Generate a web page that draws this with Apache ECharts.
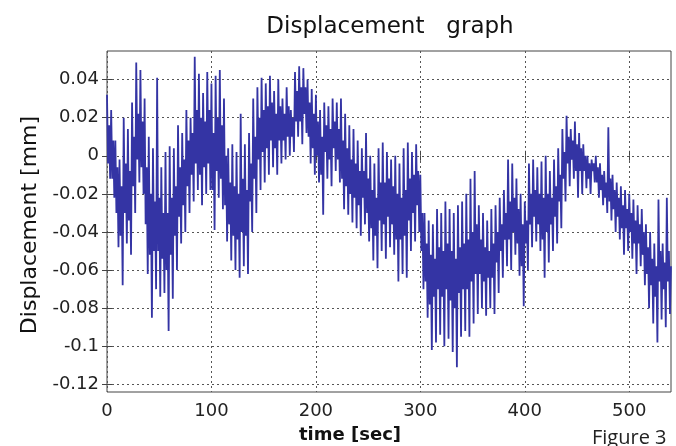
<!DOCTYPE html>
<html>
<head>
<meta charset="utf-8">
<script src="https://cdn.jsdelivr.net/npm/echarts@6/dist/echarts.min.js"></script>
<style>
  html, body { margin: 0; padding: 0; background: #fff; }
  #chart { width: 676px; height: 446px; }
</style>
</head>
<body>
<div id="chart"></div>
<script>
// one sample per second, 0..540 s (mm)
const sampleStep = 1
const displacement = [
  0.032, -0.004, 0.016, -0.012, 0.024, -0.012, 0.008, -0.022,
  0.008, -0.03, -0.006, -0.048, -0.002, -0.042, -0.016, -0.068,
  0.02, -0.03, -0.004, -0.046, 0.014, -0.034, -0.008, -0.052,
  0.028, -0.016, 0.01, -0.03, 0.049, -0.002, 0.022, -0.014,
  0.045, -0.006, 0.018, -0.02, 0.03, -0.036, -0.006, -0.062,
  0.01, -0.052, -0.02, -0.085, 0.004, -0.05, -0.024, -0.07,
  0.041, -0.05, -0.022, -0.074, -0.006, -0.054, -0.03, -0.072,
  0.002, -0.06, -0.03, -0.092, 0.005, -0.052, -0.022, -0.075,
  // 64 s
  0.004, -0.042, -0.016, -0.06, 0.016, -0.032, -0.006, -0.046,
  0.012, -0.026, -0.002, -0.04, 0.024, -0.016, 0.008, -0.03,
  0.02, -0.01, 0.012, -0.024, 0.052, -0.004, 0.024, -0.018,
  0.043, -0.01, 0.02, -0.026, 0.033, -0.006, 0.018, -0.02,
  0.044, -0.004, 0.024, -0.018, 0.038, -0.018, 0.012, -0.039,
  0.042, -0.008, 0.02, -0.022, 0.045, -0.012, 0.016, -0.028,
  0.03, -0.026, 0.0, -0.045, 0.004, -0.036, -0.014, -0.055,
  0.006, -0.042, -0.016, -0.06, 0.002, -0.044, -0.02, -0.064,
  // 128 s
  0.022, -0.04, -0.012, -0.058, 0.006, -0.042, -0.018, -0.062,
  0.012, -0.024, -0.004, -0.04, 0.03, -0.012, 0.01, -0.03,
  0.036, -0.002, 0.02, -0.018, 0.041, 0.002, 0.024, -0.014,
  0.038, 0.004, 0.026, -0.01, 0.042, 0.008, 0.028, -0.006,
  0.034, 0.004, 0.022, -0.01, 0.04, 0.008, 0.026, -0.004,
  0.03, 0.008, 0.022, -0.002, 0.036, 0.01, 0.026, 0.0,
  0.024, 0.01, 0.02, 0.002, 0.044, 0.018, 0.034, 0.01,
  0.047, 0.018, 0.036, 0.006, 0.046, 0.022, 0.036, 0.012,
  // 192 s
  0.04, 0.01, 0.028, -0.004, 0.035, 0.004, 0.022, -0.01,
  0.032, 0.0, 0.018, -0.014, 0.024, -0.01, 0.01, -0.031,
  0.028, 0.002, 0.016, -0.012, 0.026, -0.002, 0.014, -0.016,
  0.03, 0.004, 0.018, -0.008, 0.028, -0.002, 0.014, -0.014,
  0.03, -0.012, 0.008, -0.028, 0.022, -0.016, 0.004, -0.031,
  0.016, -0.02, -0.002, -0.035, 0.014, -0.022, -0.004, -0.038,
  0.008, -0.026, -0.008, -0.042, 0.004, -0.022, -0.008, -0.036,
  0.012, -0.03, -0.012, -0.045, 0.0, -0.038, -0.018, -0.055,
  // 256 s
  -0.004, -0.042, -0.022, -0.059, 0.004, -0.034, -0.014, -0.05,
  0.007, -0.036, -0.014, -0.054, 0.002, -0.032, -0.012, -0.048,
  -0.002, -0.036, -0.016, -0.052, 0.0, -0.044, -0.02, -0.066,
  -0.004, -0.044, -0.022, -0.062, 0.004, -0.042, -0.018, -0.064,
  0.007, -0.034, -0.012, -0.05, 0.002, -0.03, -0.01, -0.045,
  0.006, -0.026, -0.008, -0.04, -0.01, -0.05, -0.03, -0.07,
  -0.03, -0.066, -0.046, -0.085, -0.034, -0.078, -0.052, -0.102,
  -0.036, -0.074, -0.054, -0.098, -0.028, -0.07, -0.048, -0.094,
  // 320 s
  -0.03, -0.074, -0.05, -0.1, -0.024, -0.07, -0.046, -0.096,
  -0.028, -0.076, -0.05, -0.103, -0.03, -0.08, -0.054, -0.111,
  -0.026, -0.072, -0.048, -0.095, -0.024, -0.07, -0.046, -0.092,
  -0.02, -0.07, -0.044, -0.095, -0.012, -0.066, -0.04, -0.088,
  -0.008, -0.062, -0.036, -0.083, -0.026, -0.062, -0.044, -0.08,
  -0.03, -0.066, -0.048, -0.084, -0.034, -0.064, -0.05, -0.08,
  -0.028, -0.064, -0.046, -0.083, -0.026, -0.056, -0.04, -0.072,
  -0.022, -0.05, -0.036, -0.064, -0.018, -0.044, -0.03, -0.058,
  // 384 s
  -0.002, -0.044, -0.024, -0.06, -0.004, -0.04, -0.022, -0.052,
  -0.012, -0.046, -0.028, -0.063, -0.02, -0.058, -0.036, -0.079,
  -0.024, -0.046, -0.034, -0.06, -0.004, -0.036, -0.02, -0.048,
  -0.002, -0.032, -0.018, -0.045, -0.006, -0.036, -0.02, -0.05,
  -0.003, -0.044, -0.022, -0.064, 0.0, -0.04, -0.02, -0.056,
  -0.008, -0.036, -0.022, -0.05, -0.002, -0.032, -0.016, -0.046,
  0.004, -0.024, -0.01, -0.038, 0.014, -0.012, 0.002, -0.024,
  0.021, -0.004, 0.01, -0.016, 0.014, -0.002, 0.008, -0.012,
  // 448 s
  0.018, -0.008, 0.006, -0.022, 0.012, -0.008, 0.004, -0.02,
  0.006, -0.008, 0.0, -0.017, 0.0, -0.012, -0.004, -0.02,
  -0.002, -0.008, -0.004, -0.014, 0.0, -0.014, -0.006, -0.022,
  -0.004, -0.018, -0.01, -0.026, -0.008, -0.022, -0.014, -0.03,
  0.015, -0.024, -0.012, -0.034, -0.01, -0.028, -0.018, -0.04,
  -0.014, -0.032, -0.022, -0.044, -0.016, -0.038, -0.026, -0.052,
  -0.018, -0.038, -0.028, -0.05, -0.02, -0.04, -0.03, -0.054,
  -0.023, -0.046, -0.034, -0.062, -0.026, -0.046, -0.036, -0.058,
  // 512 s
  -0.028, -0.052, -0.04, -0.068, -0.036, -0.062, -0.048, -0.08,
  -0.04, -0.068, -0.054, -0.088, -0.046, -0.074, -0.058, -0.098,
  -0.023, -0.066, -0.05, -0.086, -0.046, -0.07, -0.056, -0.09,
  -0.022, -0.066, -0.05, -0.083,
  -0.058
]

const xTicks = [0, 100, 200, 300, 400, 500]
const yTicks = [-0.12, -0.1, -0.08, -0.06, -0.04, -0.02, 0, 0.02, 0.04]

const lineColor = '#3434a4'
const frameColor = '#444'
const labelFont = 'DejaVu Sans'

const chart = echarts.init(document.getElementById('chart'))

const points = displacement.map((v, i) => [i * sampleStep, v])

const tickStyle = { inside: true, length: 5, lineStyle: { color: frameColor } }
const gridLine = { show: true, lineStyle: { color: '#555', type: [2, 3], width: 1 } }

chart.setOption({
  animation: false,
  backgroundColor: '#fff',
  grid: {
    left: 107, right: 5, top: 51, bottom: 54,
    show: true, borderColor: frameColor, borderWidth: 1
  },
  xAxis: [
    {
      type: 'value', min: 0, max: 540, position: 'bottom',
      axisLine: { show: false },
      axisTick: { ...tickStyle, customValues: xTicks },
      axisLabel: {
        customValues: xTicks, margin: 10,
        fontFamily: labelFont, fontSize: 18, color: '#222'
      },
      splitLine: gridLine
    },
    {
      type: 'value', min: 0, max: 540, position: 'top',
      axisLine: { show: false },
      axisTick: { ...tickStyle, customValues: xTicks },
      axisLabel: { show: false },
      splitLine: { show: false }
    }
  ],
  yAxis: [
    {
      type: 'value', min: -0.124, max: 0.055, position: 'left',
      axisLine: { show: false },
      axisTick: { ...tickStyle, customValues: yTicks },
      axisLabel: {
        customValues: yTicks, margin: 8,
        fontFamily: labelFont, fontSize: 18, color: '#222',
        formatter: (v) => String(+v.toFixed(2))
      },
      splitLine: gridLine
    },
    {
      type: 'value', min: -0.124, max: 0.055, position: 'right',
      axisLine: { show: false },
      axisTick: { ...tickStyle, customValues: yTicks },
      axisLabel: { show: false },
      splitLine: { show: false }
    }
  ],
  series: [{
    type: 'line',
    data: points,
    showSymbol: false,
    sampling: 'none',
    lineStyle: { color: lineColor, width: 1.8 }
  }],
  graphic: [
    {
      type: 'text', x: 390, y: 27,
      style: {
        text: 'Displacement   graph', font: '23px "DejaVu Sans"', fill: '#111',
        align: 'center', verticalAlign: 'middle'
      }
    },
    {
      type: 'text', x: 30, y: 225, rotation: Math.PI / 2,
      style: {
        text: 'Displacement [mm]', font: '22px "DejaVu Sans"', fill: '#111',
        align: 'center', verticalAlign: 'middle'
      }
    },
    {
      type: 'text', x: 350, y: 435,
      style: {
        text: 'time [sec]', font: 'bold 18px "DejaVu Sans"', fill: '#111',
        align: 'center', verticalAlign: 'middle'
      }
    },
    {
      type: 'text', x: 592, y: 438,
      style: {
        text: 'Figure 3', font: '20px "Open Sans"', fill: '#222',
        align: 'left', verticalAlign: 'middle'
      }
    }
  ]
})
</script>
</body>
</html>
